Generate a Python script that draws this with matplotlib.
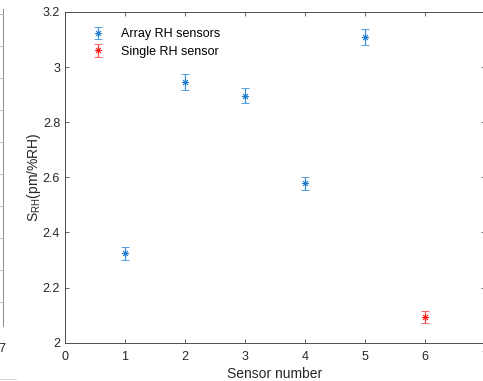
import matplotlib
matplotlib.use("Agg")
from matplotlib import pyplot as plt
from matplotlib.lines import Line2D
from matplotlib.ticker import FuncFormatter

plt.rcParams["font.family"] = ["Liberation Sans", "DejaVu Sans"]
plt.rcParams["mathtext.fontset"] = "custom"
plt.rcParams["mathtext.rm"] = "Liberation Sans"

# data
array_sensors = [1, 2, 3, 4, 5]
array_values = [2.324, 2.947, 2.897, 2.578, 3.110]
array_errors = [0.024, 0.029, 0.028, 0.025, 0.028]

single_sensor = [6]
single_values = [2.094]
single_errors = [0.021]

blue = "#1f7ccc"
blue_err = "#3d93dc"
red = "#ff1a1a"
red_err = "#ff4d4d"
axis_color = "#4d4d4d"
text_color = "#262626"
asterisk = (8, 2, 0)

fig = plt.figure(figsize=(4.83, 3.81), dpi=100)
ax = fig.add_axes([65 / 483, 1 - 342.7 / 381, 420 / 483, 330.7 / 381])

style = dict(linestyle="none", marker=asterisk, markersize=5,
             markeredgewidth=0.6, elinewidth=0.9, capsize=3.2, capthick=0.9)
h_array = ax.errorbar(array_sensors, array_values, yerr=array_errors,
                      color=blue, ecolor=blue_err, **style)
h_single = ax.errorbar(single_sensor, single_values, yerr=single_errors,
                       color=red, ecolor=red_err, **style)

ax.legend([h_array, h_single], ["Array RH sensors", "Single RH sensor"],
          loc="upper left", bbox_to_anchor=(0.035, 0.985), frameon=False,
          fontsize=9, handlelength=1.2, handletextpad=1.2, labelspacing=0.45)

ax.set_xlim(0, 7)
ax.set_ylim(2, 3.2)
ax.set_xticks(range(0, 8))
ax.set_yticks([2, 2.2, 2.4, 2.6, 2.8, 3, 3.2])
ax.yaxis.set_major_formatter(FuncFormatter(lambda v, p: "%g" % v))
ax.tick_params(direction="in", length=3, width=0.6, colors=axis_color,
               labelcolor=text_color, labelsize=9, top=True, right=True)
ax.tick_params(axis="x", pad=6)
for s in ax.spines.values():
    s.set_color(axis_color)
    s.set_linewidth(0.7)

ax.set_xlabel("Sensor number", fontsize=10, color=text_color, labelpad=3)
ax.set_ylabel("S$_{\\mathrm{RH}}$(pm/%RH)", fontsize=10, color=text_color,
              labelpad=0)

# sliver of the neighbouring chart on the left edge
fig.add_artist(Line2D([3 / 483, 3 / 483], [1 - 9 / 381, 1 - 326 / 381],
                      color="#8a8a8a", linewidth=0.7))
for yy in [14, 46, 78, 110, 142, 174, 206, 238, 270, 302]:
    fig.add_artist(Line2D([0, 3 / 483], [1 - yy / 381, 1 - yy / 381],
                          color="#b0b0b0", linewidth=0.6))
fig.add_artist(Line2D([0, 16 / 483], [1 - 379 / 381, 1 - 379 / 381],
                      color="#d0d0d0", linewidth=0.6))
fig.text(-2 / 483, 1 - 349 / 381, "7", fontsize=9, color=text_color,
         va="center", ha="left")

fig.savefig("out.png", dpi=100)
